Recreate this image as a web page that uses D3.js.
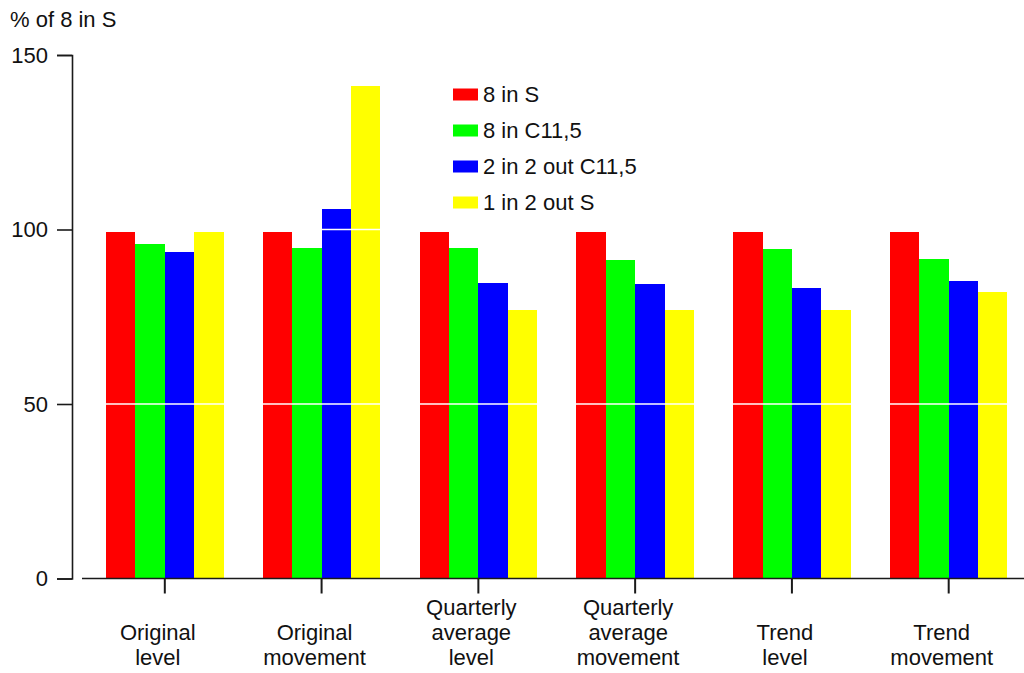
<!DOCTYPE html>
<html>
<head>
<meta charset="utf-8">
<script src="https://cdn.jsdelivr.net/npm/d3@7"></script>
<style>
  html, body { margin: 0; padding: 0; background: #fff; }
  svg { display: block; font-family: "Liberation Sans", Arial, sans-serif; }
</style>
</head>
<body>
<svg id="chart" width="1024" height="673"></svg>
<script>
const categories = ["Original level", "Original movement", "Quarterly average level", "Quarterly average movement", "Trend level", "Trend movement"];
const categoryLines = [["Original", "level"], ["Original", "movement"], ["Quarterly", "average", "level"], ["Quarterly", "average", "movement"], ["Trend", "level"], ["Trend", "movement"]];
const seriesNames = ["8 in S", "8 in C11,5", "2 in 2 out C11,5", "1 in 2 out S"];
const seriesColors = ["#ff0000", "#00ff00", "#0000ff", "#ffff00"];
const s8inS      = [99.3, 99.3, 99.3, 99.3, 99.3, 99.3];
const s8inC115   = [95.9, 94.8, 94.8, 91.3, 94.5, 91.6];
const s2in2outC  = [93.6, 105.9, 84.8, 84.5, 83.3, 85.3];
const s1in2outS  = [99.3, 141.2, 77.0, 77.0, 77.0, 82.2];
const seriesValues = [s8inS, s8inC115, s2in2outC, s1in2outS];
const yTicks = [0, 50, 100, 150];
const gridValues = [50, 100];
const yTitle = "% of 8 in S";

const svg = d3.select("#chart");
const fontSize = 22;
const axisColor = "#1a1a1a";

const y = d3.scaleLinear().domain([0, 150]).range([578.5, 55]);
const x0 = d3.scaleBand().domain(categories).range([82.5, 1031]).paddingInner(0.25).paddingOuter(0.15);
const x1 = d3.scaleBand().domain(seriesNames).range([0, x0.bandwidth()]).padding(0);

// bars
const groups = svg.append("g").selectAll("g").data(categories).join("g")
  .attr("transform", d => `translate(${x0(d)},0)`);
groups.selectAll("rect")
  .data((c, ci) => seriesNames.map((s, si) => ({ s, si, v: seriesValues[si][ci] })))
  .join("rect")
  .attr("x", d => x1(d.s))
  .attr("width", x1.bandwidth())
  .attr("y", d => y(d.v))
  .attr("height", d => y(0) - y(d.v))
  .attr("fill", d => seriesColors[d.si])
  .attr("shape-rendering", "crispEdges");

// white gridlines over bars
svg.append("g").selectAll("line").data(gridValues).join("line")
  .attr("x1", 82).attr("x2", 1024)
  .attr("y1", d => y(d)).attr("y2", d => y(d))
  .attr("stroke", "#ffffff").attr("stroke-width", 1.6);

// y axis
const yAxis = d3.axisLeft(y).tickValues(yTicks).tickSize(15).tickSizeOuter(15).tickPadding(9);
const yg = svg.append("g").attr("transform", "translate(72,0)").call(yAxis);
yg.select(".domain").attr("stroke", axisColor).attr("stroke-width", 1.6);
yg.selectAll(".tick line").attr("stroke", axisColor).attr("stroke-width", 1.6);
yg.selectAll(".tick text").attr("font-size", fontSize).attr("fill", "#111")
  .attr("font-family", "Liberation Sans, Arial, sans-serif");

// x axis
const xAxis = d3.axisBottom(x0).tickSize(15).tickSizeOuter(0).tickFormat("").offset(-1.5);
const xg = svg.append("g").attr("transform", `translate(0,${y(0)})`).call(xAxis);
xg.select(".domain").attr("d", `M82,0H1024`).attr("stroke", axisColor).attr("stroke-width", 1.6);
xg.selectAll(".tick line").attr("stroke", axisColor).attr("stroke-width", 2);

// category labels
const lineGap = 25;
const bottomBase = 665;
categories.forEach((c, i) => {
  const lines = categoryLines[i];
  const cx = x0(c) + x0.bandwidth() / 2 - 7;
  const t = svg.append("text").attr("text-anchor", "middle")
    .attr("font-size", fontSize).attr("fill", "#111");
  lines.forEach((ln, k) => {
    t.append("tspan").attr("x", cx)
      .attr("y", bottomBase - (lines.length - 1 - k) * lineGap)
      .text(ln);
  });
});

// title
svg.append("text").attr("x", 10).attr("y", 27).attr("font-size", fontSize)
  .attr("fill", "#111").text(yTitle);

// legend
const legend = svg.append("g").selectAll("g").data(seriesNames).join("g")
  .attr("transform", (d, i) => `translate(453,${94.5 + i * 36})`);
legend.append("rect").attr("x", 0).attr("y", -6).attr("width", 25).attr("height", 12)
  .attr("fill", (d, i) => seriesColors[i]);
legend.append("text").attr("x", 30).attr("y", 0).attr("dy", "0.36em")
  .attr("font-size", fontSize).attr("fill", "#111").text(d => d);
</script>
</body>
</html>
